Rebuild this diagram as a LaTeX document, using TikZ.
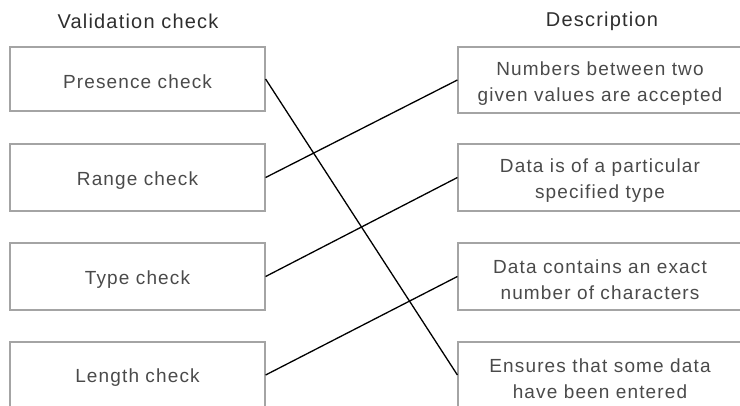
\documentclass[tikz,border=0pt]{standalone}
\usepackage{fontspec}
\setmainfont{Liberation Sans}
\newfontfamily\boxfont[LetterSpace=6]{Liberation Sans}
\definecolor{boxline}{HTML}{A4A4A4}
\definecolor{boxtext}{HTML}{4A4A4A}
\definecolor{headtext}{HTML}{2E2E2E}
\tikzset{
  checkbox/.style={draw=boxline, line width=1.2pt, minimum width=255pt, inner sep=0pt},
  descbox/.style={draw=boxline, line width=1.2pt, minimum width=284pt, inner sep=0pt},
  boxlabel/.style={inner sep=0pt, text=boxtext, font=\boxfont\fontsize{19}{26}\selectfont, align=center},
  header/.style={text=headtext, font=\boxfont\fontsize{20}{24}\selectfont, inner sep=0pt},
  link/.style={draw=black, line width=1.3pt}
}
\begin{document}
\begin{tikzpicture}[x=1pt,y=-1pt]
\useasboundingbox (0,0) rectangle (740,405);
\clip (0,0) rectangle (740,405);
\node[header] (h1) at (138,21) {Validation check};
\node[header] (h2) at (602,21) {Description};
\node[checkbox, minimum height=64pt] (pres) at (137.5,79) {};
\node[checkbox, minimum height=67pt] (rang) at (137.5,177.5) {};
\node[checkbox, minimum height=67pt] (type) at (137.5,276.5) {};
\node[checkbox, minimum height=66pt] (leng) at (137.5,375) {};
\node[descbox, minimum height=66pt] (d1) at (600,80) {};
\node[descbox, minimum height=67pt] (d2) at (600,177.5) {};
\node[descbox, minimum height=67pt] (d3) at (600,276.5) {};
\node[descbox, minimum height=66pt] (d4) at (600,375) {};
\node[boxlabel] (tpres) at ([yshift=-3pt]pres.center) {Presence check};
\node[boxlabel] (trang) at ([yshift=-3pt]rang.center) {Range check};
\node[boxlabel] (ttype) at ([yshift=-3pt]type.center) {Type check};
\node[boxlabel] (tleng) at ([yshift=-3pt]leng.center) {Length check};
\node[boxlabel] (td1) at ([yshift=-3.5pt]d1.center) {Numbers between two\\given values are accepted};
\node[boxlabel] (td2) at ([yshift=-3.5pt]d2.center) {Data is of a particular\\specified type};
\node[boxlabel] (td3) at ([yshift=-3.5pt]d3.center) {Data contains an exact\\number of characters};
\node[boxlabel] (td4) at ([yshift=-3.5pt]d4.center) {Ensures that some data\\have been entered};
\draw[link] (pres.east) -- (d4.west);
\draw[link] (rang.east) -- (d1.west);
\draw[link] (type.east) -- (d2.west);
\draw[link] (leng.east) -- (d3.west);
\end{tikzpicture}
\end{document}
